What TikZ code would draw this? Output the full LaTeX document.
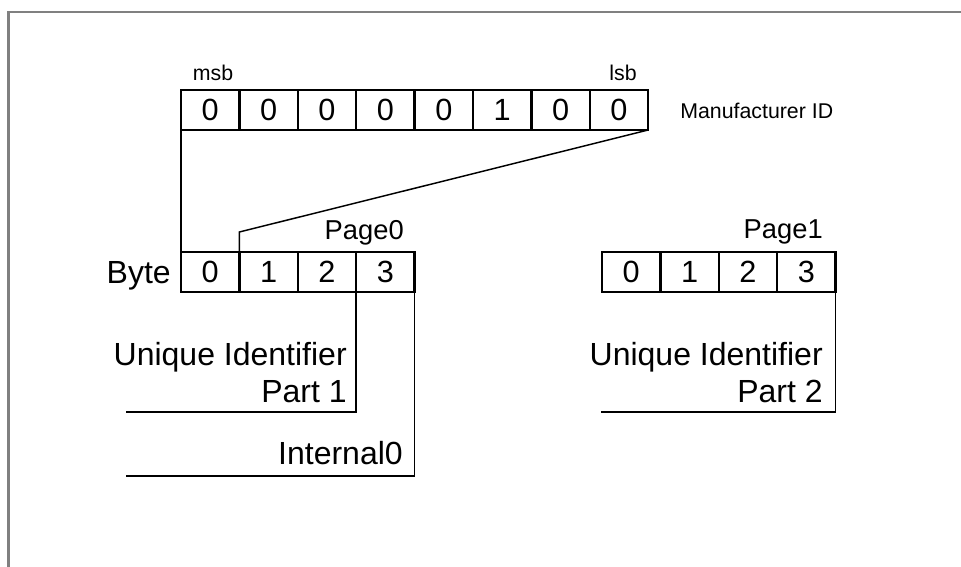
\documentclass[tikz,border=0pt]{standalone}
\usepackage{fontspec}
\setmainfont{Liberation Sans}
\usetikzlibrary{positioning}

\begin{document}
\begin{tikzpicture}[x=0.75pt, y=-0.75pt,
    cell/.style={draw, line width=1.7pt, minimum width=43.8pt, minimum height=30pt,
      inner sep=0pt, outer sep=0pt, font=\fontsize{23}{25}\selectfont},
    small/.style={inner sep=0pt, font=\fontsize{16}{18}\selectfont},
    big/.style={inner sep=0pt, align=right, font=\fontsize{24}{28}\selectfont},
    pagelabel/.style={inner sep=0pt, font=\fontsize{20.5}{22}\selectfont},
    wire/.style={line width=1.1pt}]
  \useasboundingbox (0, 0) rectangle (961, 567);
  \draw[gray, line width=2pt] (8.5, 567) -- (8.5, 12) -- (961, 12);

  \node[small] (msb) at (213, 72.5) {msb};
  \node[small] (lsb) at (623, 72.5) {lsb};
  \node[cell] (m1) at (210.2, 110) {0};
  \node[cell] (m2) at (268.6, 110) {0};
  \node[cell] (m3) at (327.0, 110) {0};
  \node[cell] (m4) at (385.4, 110) {0};
  \node[cell] (m5) at (443.8, 110) {0};
  \node[cell] (m6) at (502.2, 110) {1};
  \node[cell] (m7) at (560.6, 110) {0};
  \node[cell] (m8) at (619.0, 110) {0};
  \node[small, anchor=west] (mid) at (680, 111) {Manufacturer ID};

  \node[big, anchor=base east] (byte) at (171, 283) {Byte};
  \node[pagelabel, anchor=base east] (page0) at (404, 239) {Page0};
  \node[cell] (a0) at (210.2, 272) {0};
  \node[cell] (a1) at (268.6, 272) {1};
  \node[cell] (a2) at (327.0, 272) {2};
  \node[cell] (a3) at (385.4, 272) {3};

  \node[pagelabel, anchor=base east] (page1) at (823, 238) {Page1};
  \node[cell] (b0) at (631.2, 272) {0};
  \node[cell] (b1) at (689.6, 272) {1};
  \node[cell] (b2) at (748.0, 272) {2};
  \node[cell] (b3) at (806.4, 272) {3};

  \node[big, anchor=south east] (uid1) at (347, 403) {Unique Identifier\\Part 1};
  \node[big, anchor=south east] (int0) at (403, 465) {Internal0};
  \node[big, anchor=south east] (uid2) at (823, 403) {Unique Identifier\\Part 2};

  \coordinate (kink) at (239.4, 232);
  \coordinate (end1) at (126, 412);
  \coordinate (end2) at (126, 476);
  \coordinate (end3) at (601, 412);

  \draw[wire] (m1.south west) -- (a0.north west);
  \draw[wire] (m8.south east) -- (kink) -- (a1.north west);
  \draw[wire] (a3.south west) |- (end1);
  \draw[wire] (a3.south east) |- (end2);
  \draw[wire] (b3.south east) |- (end3);
\end{tikzpicture}
\end{document}
